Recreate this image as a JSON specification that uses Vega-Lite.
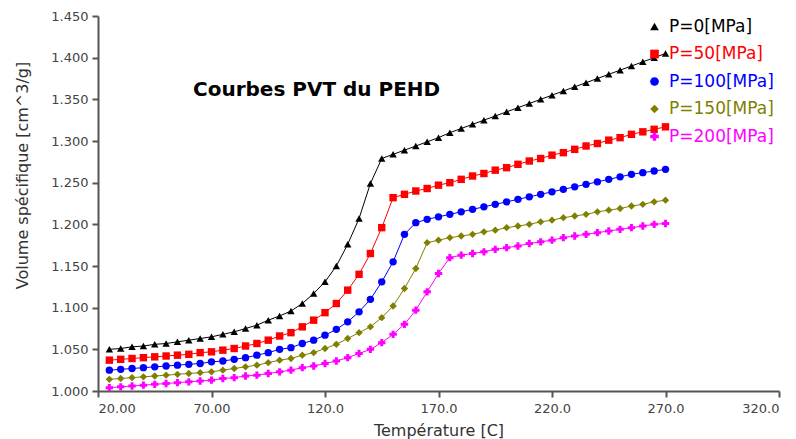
{
  "$schema": "https://vega.github.io/schema/vega-lite/v6.json",
  "width": 681,
  "height": 375,
  "autosize": "none",
  "padding": {"left": 98, "top": 16, "right": 17, "bottom": 48},
  "background": "white",
  "title": {
    "text": "Courbes PVT du PEHD",
    "anchor": "start",
    "frame": "group",
    "font": "DejaVu Sans",
    "fontSize": 20,
    "fontWeight": "bold",
    "color": "#000000",
    "dx": 95,
    "dy": 94
  },
  "config": {
    "view": {"stroke": null}
  },
  "data": {
    "values": [
      {"T":25,"V":1.050,"P":"P=0[MPa]"},{"T":30,"V":1.051,"P":"P=0[MPa]"},{"T":35,"V":1.053,"P":"P=0[MPa]"},{"T":40,"V":1.054,"P":"P=0[MPa]"},{"T":45,"V":1.056,"P":"P=0[MPa]"},
      {"T":50,"V":1.057,"P":"P=0[MPa]"},{"T":55,"V":1.059,"P":"P=0[MPa]"},{"T":60,"V":1.061,"P":"P=0[MPa]"},{"T":65,"V":1.063,"P":"P=0[MPa]"},{"T":70,"V":1.065,"P":"P=0[MPa]"},
      {"T":75,"V":1.068,"P":"P=0[MPa]"},{"T":80,"V":1.071,"P":"P=0[MPa]"},{"T":85,"V":1.075,"P":"P=0[MPa]"},{"T":90,"V":1.079,"P":"P=0[MPa]"},{"T":95,"V":1.085,"P":"P=0[MPa]"},
      {"T":100,"V":1.090,"P":"P=0[MPa]"},{"T":105,"V":1.096,"P":"P=0[MPa]"},{"T":110,"V":1.105,"P":"P=0[MPa]"},{"T":115,"V":1.117,"P":"P=0[MPa]"},{"T":120,"V":1.131,"P":"P=0[MPa]"},
      {"T":125,"V":1.150,"P":"P=0[MPa]"},{"T":130,"V":1.176,"P":"P=0[MPa]"},{"T":135,"V":1.207,"P":"P=0[MPa]"},{"T":140,"V":1.249,"P":"P=0[MPa]"},{"T":145,"V":1.279,"P":"P=0[MPa]"},
      {"T":150,"V":1.284,"P":"P=0[MPa]"},{"T":155,"V":1.289,"P":"P=0[MPa]"},{"T":160,"V":1.294,"P":"P=0[MPa]"},{"T":165,"V":1.299,"P":"P=0[MPa]"},{"T":170,"V":1.304,"P":"P=0[MPa]"},
      {"T":175,"V":1.310,"P":"P=0[MPa]"},{"T":180,"V":1.315,"P":"P=0[MPa]"},{"T":185,"V":1.320,"P":"P=0[MPa]"},{"T":190,"V":1.325,"P":"P=0[MPa]"},{"T":195,"V":1.330,"P":"P=0[MPa]"},
      {"T":200,"V":1.335,"P":"P=0[MPa]"},{"T":205,"V":1.340,"P":"P=0[MPa]"},{"T":210,"V":1.345,"P":"P=0[MPa]"},{"T":215,"V":1.350,"P":"P=0[MPa]"},{"T":220,"V":1.355,"P":"P=0[MPa]"},
      {"T":225,"V":1.360,"P":"P=0[MPa]"},{"T":230,"V":1.365,"P":"P=0[MPa]"},{"T":235,"V":1.370,"P":"P=0[MPa]"},{"T":240,"V":1.375,"P":"P=0[MPa]"},{"T":245,"V":1.380,"P":"P=0[MPa]"},
      {"T":250,"V":1.385,"P":"P=0[MPa]"},{"T":255,"V":1.390,"P":"P=0[MPa]"},{"T":260,"V":1.395,"P":"P=0[MPa]"},{"T":265,"V":1.400,"P":"P=0[MPa]"},{"T":270,"V":1.405,"P":"P=0[MPa]"},

      {"T":25,"V":1.037,"P":"P=50[MPa]"},{"T":30,"V":1.038,"P":"P=50[MPa]"},{"T":35,"V":1.039,"P":"P=50[MPa]"},{"T":40,"V":1.040,"P":"P=50[MPa]"},{"T":45,"V":1.041,"P":"P=50[MPa]"},
      {"T":50,"V":1.042,"P":"P=50[MPa]"},{"T":55,"V":1.043,"P":"P=50[MPa]"},{"T":60,"V":1.044,"P":"P=50[MPa]"},{"T":65,"V":1.046,"P":"P=50[MPa]"},{"T":70,"V":1.047,"P":"P=50[MPa]"},
      {"T":75,"V":1.049,"P":"P=50[MPa]"},{"T":80,"V":1.051,"P":"P=50[MPa]"},{"T":85,"V":1.054,"P":"P=50[MPa]"},{"T":90,"V":1.057,"P":"P=50[MPa]"},{"T":95,"V":1.061,"P":"P=50[MPa]"},
      {"T":100,"V":1.066,"P":"P=50[MPa]"},{"T":105,"V":1.070,"P":"P=50[MPa]"},{"T":110,"V":1.077,"P":"P=50[MPa]"},{"T":115,"V":1.085,"P":"P=50[MPa]"},{"T":120,"V":1.094,"P":"P=50[MPa]"},
      {"T":125,"V":1.105,"P":"P=50[MPa]"},{"T":130,"V":1.121,"P":"P=50[MPa]"},{"T":135,"V":1.140,"P":"P=50[MPa]"},{"T":140,"V":1.165,"P":"P=50[MPa]"},{"T":145,"V":1.196,"P":"P=50[MPa]"},
      {"T":150,"V":1.232,"P":"P=50[MPa]"},{"T":155,"V":1.236,"P":"P=50[MPa]"},{"T":160,"V":1.240,"P":"P=50[MPa]"},{"T":165,"V":1.243,"P":"P=50[MPa]"},{"T":170,"V":1.247,"P":"P=50[MPa]"},
      {"T":175,"V":1.250,"P":"P=50[MPa]"},{"T":180,"V":1.254,"P":"P=50[MPa]"},{"T":185,"V":1.258,"P":"P=50[MPa]"},{"T":190,"V":1.261,"P":"P=50[MPa]"},{"T":195,"V":1.265,"P":"P=50[MPa]"},
      {"T":200,"V":1.268,"P":"P=50[MPa]"},{"T":205,"V":1.272,"P":"P=50[MPa]"},{"T":210,"V":1.276,"P":"P=50[MPa]"},{"T":215,"V":1.279,"P":"P=50[MPa]"},{"T":220,"V":1.283,"P":"P=50[MPa]"},
      {"T":225,"V":1.286,"P":"P=50[MPa]"},{"T":230,"V":1.290,"P":"P=50[MPa]"},{"T":235,"V":1.294,"P":"P=50[MPa]"},{"T":240,"V":1.297,"P":"P=50[MPa]"},{"T":245,"V":1.301,"P":"P=50[MPa]"},
      {"T":250,"V":1.304,"P":"P=50[MPa]"},{"T":255,"V":1.308,"P":"P=50[MPa]"},{"T":260,"V":1.311,"P":"P=50[MPa]"},{"T":265,"V":1.314,"P":"P=50[MPa]"},{"T":270,"V":1.317,"P":"P=50[MPa]"},

      {"T":25,"V":1.025,"P":"P=100[MPa]"},{"T":30,"V":1.026,"P":"P=100[MPa]"},{"T":35,"V":1.027,"P":"P=100[MPa]"},{"T":40,"V":1.028,"P":"P=100[MPa]"},{"T":45,"V":1.029,"P":"P=100[MPa]"},
      {"T":50,"V":1.030,"P":"P=100[MPa]"},{"T":55,"V":1.031,"P":"P=100[MPa]"},{"T":60,"V":1.032,"P":"P=100[MPa]"},{"T":65,"V":1.033,"P":"P=100[MPa]"},{"T":70,"V":1.035,"P":"P=100[MPa]"},
      {"T":75,"V":1.036,"P":"P=100[MPa]"},{"T":80,"V":1.038,"P":"P=100[MPa]"},{"T":85,"V":1.040,"P":"P=100[MPa]"},{"T":90,"V":1.043,"P":"P=100[MPa]"},{"T":95,"V":1.046,"P":"P=100[MPa]"},
      {"T":100,"V":1.050,"P":"P=100[MPa]"},{"T":105,"V":1.052,"P":"P=100[MPa]"},{"T":110,"V":1.057,"P":"P=100[MPa]"},{"T":115,"V":1.061,"P":"P=100[MPa]"},{"T":120,"V":1.067,"P":"P=100[MPa]"},
      {"T":125,"V":1.074,"P":"P=100[MPa]"},{"T":130,"V":1.083,"P":"P=100[MPa]"},{"T":135,"V":1.095,"P":"P=100[MPa]"},{"T":140,"V":1.110,"P":"P=100[MPa]"},{"T":145,"V":1.131,"P":"P=100[MPa]"},
      {"T":150,"V":1.155,"P":"P=100[MPa]"},{"T":155,"V":1.188,"P":"P=100[MPa]"},{"T":160,"V":1.202,"P":"P=100[MPa]"},{"T":165,"V":1.206,"P":"P=100[MPa]"},{"T":170,"V":1.209,"P":"P=100[MPa]"},
      {"T":175,"V":1.212,"P":"P=100[MPa]"},{"T":180,"V":1.215,"P":"P=100[MPa]"},{"T":185,"V":1.218,"P":"P=100[MPa]"},{"T":190,"V":1.221,"P":"P=100[MPa]"},{"T":195,"V":1.224,"P":"P=100[MPa]"},
      {"T":200,"V":1.227,"P":"P=100[MPa]"},{"T":205,"V":1.230,"P":"P=100[MPa]"},{"T":210,"V":1.233,"P":"P=100[MPa]"},{"T":215,"V":1.236,"P":"P=100[MPa]"},{"T":220,"V":1.239,"P":"P=100[MPa]"},
      {"T":225,"V":1.242,"P":"P=100[MPa]"},{"T":230,"V":1.245,"P":"P=100[MPa]"},{"T":235,"V":1.248,"P":"P=100[MPa]"},{"T":240,"V":1.251,"P":"P=100[MPa]"},{"T":245,"V":1.254,"P":"P=100[MPa]"},
      {"T":250,"V":1.257,"P":"P=100[MPa]"},{"T":255,"V":1.260,"P":"P=100[MPa]"},{"T":260,"V":1.262,"P":"P=100[MPa]"},{"T":265,"V":1.264,"P":"P=100[MPa]"},{"T":270,"V":1.266,"P":"P=100[MPa]"},

      {"T":25,"V":1.014,"P":"P=150[MPa]"},{"T":30,"V":1.015,"P":"P=150[MPa]"},{"T":35,"V":1.016,"P":"P=150[MPa]"},{"T":40,"V":1.017,"P":"P=150[MPa]"},{"T":45,"V":1.018,"P":"P=150[MPa]"},
      {"T":50,"V":1.019,"P":"P=150[MPa]"},{"T":55,"V":1.020,"P":"P=150[MPa]"},{"T":60,"V":1.021,"P":"P=150[MPa]"},{"T":65,"V":1.022,"P":"P=150[MPa]"},{"T":70,"V":1.023,"P":"P=150[MPa]"},
      {"T":75,"V":1.025,"P":"P=150[MPa]"},{"T":80,"V":1.027,"P":"P=150[MPa]"},{"T":85,"V":1.029,"P":"P=150[MPa]"},{"T":90,"V":1.031,"P":"P=150[MPa]"},{"T":95,"V":1.034,"P":"P=150[MPa]"},
      {"T":100,"V":1.037,"P":"P=150[MPa]"},{"T":105,"V":1.039,"P":"P=150[MPa]"},{"T":110,"V":1.043,"P":"P=150[MPa]"},{"T":115,"V":1.046,"P":"P=150[MPa]"},{"T":120,"V":1.051,"P":"P=150[MPa]"},
      {"T":125,"V":1.056,"P":"P=150[MPa]"},{"T":130,"V":1.063,"P":"P=150[MPa]"},{"T":135,"V":1.070,"P":"P=150[MPa]"},{"T":140,"V":1.077,"P":"P=150[MPa]"},{"T":145,"V":1.088,"P":"P=150[MPa]"},
      {"T":150,"V":1.102,"P":"P=150[MPa]"},{"T":155,"V":1.123,"P":"P=150[MPa]"},{"T":160,"V":1.147,"P":"P=150[MPa]"},{"T":165,"V":1.178,"P":"P=150[MPa]"},{"T":170,"V":1.181,"P":"P=150[MPa]"},
      {"T":175,"V":1.184,"P":"P=150[MPa]"},{"T":180,"V":1.186,"P":"P=150[MPa]"},{"T":185,"V":1.188,"P":"P=150[MPa]"},{"T":190,"V":1.191,"P":"P=150[MPa]"},{"T":195,"V":1.193,"P":"P=150[MPa]"},
      {"T":200,"V":1.196,"P":"P=150[MPa]"},{"T":205,"V":1.198,"P":"P=150[MPa]"},{"T":210,"V":1.200,"P":"P=150[MPa]"},{"T":215,"V":1.203,"P":"P=150[MPa]"},{"T":220,"V":1.205,"P":"P=150[MPa]"},
      {"T":225,"V":1.208,"P":"P=150[MPa]"},{"T":230,"V":1.210,"P":"P=150[MPa]"},{"T":235,"V":1.212,"P":"P=150[MPa]"},{"T":240,"V":1.215,"P":"P=150[MPa]"},{"T":245,"V":1.217,"P":"P=150[MPa]"},
      {"T":250,"V":1.219,"P":"P=150[MPa]"},{"T":255,"V":1.222,"P":"P=150[MPa]"},{"T":260,"V":1.224,"P":"P=150[MPa]"},{"T":265,"V":1.227,"P":"P=150[MPa]"},{"T":270,"V":1.229,"P":"P=150[MPa]"},

      {"T":25,"V":1.004,"P":"P=200[MPa]"},{"T":30,"V":1.005,"P":"P=200[MPa]"},{"T":35,"V":1.006,"P":"P=200[MPa]"},{"T":40,"V":1.007,"P":"P=200[MPa]"},{"T":45,"V":1.008,"P":"P=200[MPa]"},
      {"T":50,"V":1.009,"P":"P=200[MPa]"},{"T":55,"V":1.010,"P":"P=200[MPa]"},{"T":60,"V":1.011,"P":"P=200[MPa]"},{"T":65,"V":1.012,"P":"P=200[MPa]"},{"T":70,"V":1.013,"P":"P=200[MPa]"},
      {"T":75,"V":1.015,"P":"P=200[MPa]"},{"T":80,"V":1.016,"P":"P=200[MPa]"},{"T":85,"V":1.018,"P":"P=200[MPa]"},{"T":90,"V":1.019,"P":"P=200[MPa]"},{"T":95,"V":1.021,"P":"P=200[MPa]"},
      {"T":100,"V":1.023,"P":"P=200[MPa]"},{"T":105,"V":1.025,"P":"P=200[MPa]"},{"T":110,"V":1.028,"P":"P=200[MPa]"},{"T":115,"V":1.030,"P":"P=200[MPa]"},{"T":120,"V":1.033,"P":"P=200[MPa]"},
      {"T":125,"V":1.036,"P":"P=200[MPa]"},{"T":130,"V":1.040,"P":"P=200[MPa]"},{"T":135,"V":1.045,"P":"P=200[MPa]"},{"T":140,"V":1.050,"P":"P=200[MPa]"},{"T":145,"V":1.058,"P":"P=200[MPa]"},
      {"T":150,"V":1.068,"P":"P=200[MPa]"},{"T":155,"V":1.080,"P":"P=200[MPa]"},{"T":160,"V":1.097,"P":"P=200[MPa]"},{"T":165,"V":1.119,"P":"P=200[MPa]"},{"T":170,"V":1.141,"P":"P=200[MPa]"},
      {"T":175,"V":1.160,"P":"P=200[MPa]"},{"T":180,"V":1.163,"P":"P=200[MPa]"},{"T":185,"V":1.165,"P":"P=200[MPa]"},{"T":190,"V":1.167,"P":"P=200[MPa]"},{"T":195,"V":1.170,"P":"P=200[MPa]"},
      {"T":200,"V":1.172,"P":"P=200[MPa]"},{"T":205,"V":1.174,"P":"P=200[MPa]"},{"T":210,"V":1.177,"P":"P=200[MPa]"},{"T":215,"V":1.179,"P":"P=200[MPa]"},{"T":220,"V":1.181,"P":"P=200[MPa]"},
      {"T":225,"V":1.184,"P":"P=200[MPa]"},{"T":230,"V":1.186,"P":"P=200[MPa]"},{"T":235,"V":1.188,"P":"P=200[MPa]"},{"T":240,"V":1.190,"P":"P=200[MPa]"},{"T":245,"V":1.192,"P":"P=200[MPa]"},
      {"T":250,"V":1.194,"P":"P=200[MPa]"},{"T":255,"V":1.196,"P":"P=200[MPa]"},{"T":260,"V":1.198,"P":"P=200[MPa]"},{"T":265,"V":1.200,"P":"P=200[MPa]"},{"T":270,"V":1.201,"P":"P=200[MPa]"}
    ]
  },
  "encoding": {
    "x": {
      "field": "T",
      "type": "quantitative",
      "scale": {"domain": [20, 320], "nice": false, "zero": false},
      "axis": {
        "values": [20, 70, 120, 170, 220, 270, 320],
        "labelExpr": "datum.value < 100 ? format(datum.value, '.2f') : format(datum.value, '.1f')",
        "grid": false,
        "domainColor": "#555555",
        "domainWidth": 2,
        "tickColor": "#555555",
        "tickWidth": 2,
        "tickSize": 6,
        "labelFont": "DejaVu Sans",
        "labelFontSize": 13,
        "labelColor": "#444444",
        "labelPadding": 5,
        "title": "Température [C]",
        "titleFont": "DejaVu Sans",
        "titleFontSize": 16,
        "titleFontWeight": "normal",
        "titleColor": "#333333",
        "titlePadding": 7
      }
    },
    "y": {
      "field": "V",
      "type": "quantitative",
      "scale": {"domain": [1.0, 1.45], "nice": false, "zero": false},
      "axis": {
        "values": [1.0, 1.05, 1.1, 1.15, 1.2, 1.25, 1.3, 1.35, 1.4, 1.45],
        "format": ".3f",
        "grid": false,
        "domainColor": "#555555",
        "domainWidth": 2,
        "tickColor": "#555555",
        "tickWidth": 2,
        "tickSize": 6,
        "labelFont": "DejaVu Sans",
        "labelFontSize": 13,
        "labelColor": "#444444",
        "labelPadding": 4,
        "title": "Volume spécifique [cm^3/g]",
        "titleFont": "DejaVu Sans",
        "titleFontSize": 16,
        "titleFontWeight": "normal",
        "titleColor": "#333333",
        "titlePadding": 20,
        "titleY": 159
      }
    },
    "color": {
      "field": "P",
      "type": "nominal",
      "scale": {
        "domain": ["P=0[MPa]", "P=50[MPa]", "P=100[MPa]", "P=150[MPa]", "P=200[MPa]"],
        "range": ["#000000", "#ff0000", "#0000ff", "#808000", "#ff00ff"]
      },
      "legend": {
        "title": null,
        "orient": "none",
        "legendX": 548,
        "legendY": 2,
        "padding": 0,
        "rowPadding": 9.5,
        "labelFont": "DejaVu Sans",
        "labelFontSize": 17,
        "labelOffset": 6,
        "symbolSize": 75,
        "symbolStrokeWidth": 0,
        "encode": {
          "labels": {"update": {"fill": {"scale": "color", "field": "value"}}}
        }
      }
    }
  },
  "layer": [
    {
      "mark": {"type": "line", "strokeWidth": 1},
      "encoding": {"detail": {"field": "P", "type": "nominal"}}
    },
    {
      "mark": {"type": "point", "filled": true, "size": 55, "opacity": 1},
      "encoding": {
        "shape": {
          "field": "P",
          "type": "nominal",
          "scale": {
            "domain": ["P=0[MPa]", "P=50[MPa]", "P=100[MPa]", "P=150[MPa]", "P=200[MPa]"],
            "range": ["triangle-up", "square", "circle", "diamond", "cross"]
          },
          "legend": {
            "title": null,
            "orient": "none",
            "legendX": 548,
            "legendY": 2,
            "padding": 0,
            "rowPadding": 9.5,
            "labelFont": "DejaVu Sans",
            "labelFontSize": 17,
            "labelOffset": 6,
            "symbolSize": 75,
            "symbolStrokeWidth": 0,
            "encode": {
              "labels": {"update": {"fill": {"scale": "color", "field": "value"}}}
            }
          }
        }
      }
    }
  ]
}
